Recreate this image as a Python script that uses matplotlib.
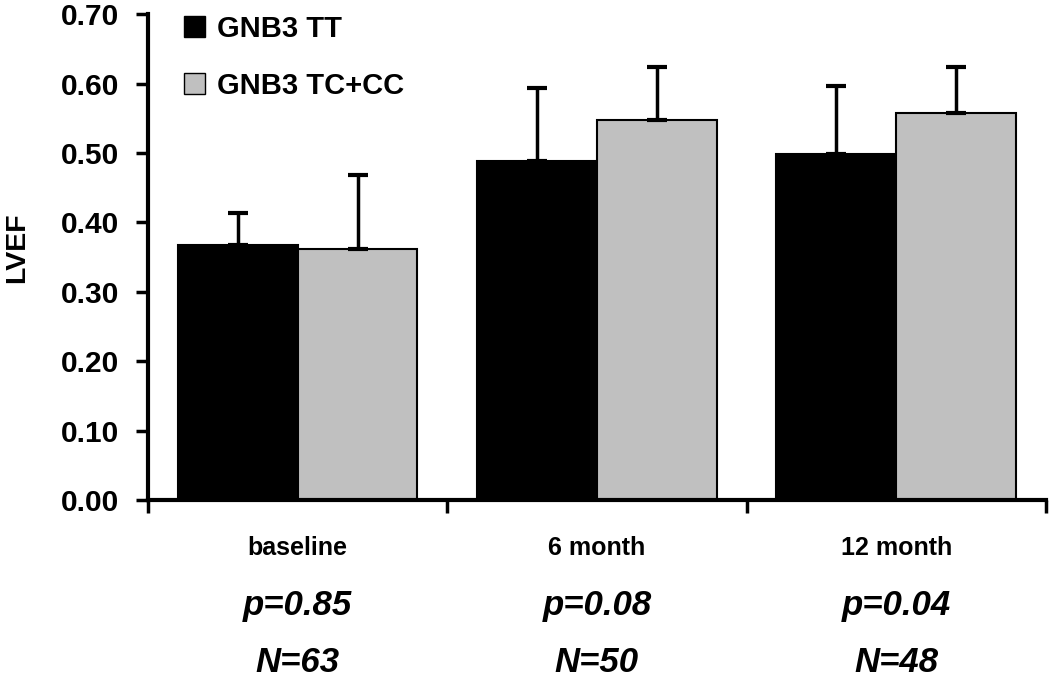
import matplotlib
matplotlib.use("Agg")
import matplotlib.pyplot as plt
import numpy as np
from matplotlib.patches import Patch

categories = ["baseline", "6 month", "12 month"]
tt_values = [0.367, 0.488, 0.498]
tt_err = [0.047, 0.106, 0.099]
tc_values = [0.361, 0.548, 0.558]
tc_err = [0.107, 0.076, 0.066]
p_values = ["p=0.85", "p=0.08", "p=0.04"]
n_values = ["N=63", "N=50", "N=48"]
series_names = ["GNB3 TT", "GNB3 TC+CC"]
yticks = [0.0, 0.1, 0.2, 0.3, 0.4, 0.5, 0.6, 0.7]

plt.rcParams['font.family'] = ['Liberation Sans', 'DejaVu Sans']
plt.rcParams['font.weight'] = 'bold'

fig = plt.figure(figsize=(10.5, 6.82), dpi=100)
ax = fig.add_axes([0.141, 0.267, 0.855, 0.712])

x = np.arange(len(categories))
w = 0.4
ekw = dict(elinewidth=2.5, capsize=7, capthick=3, ecolor='black')
ax.bar(x - w/2, tt_values, w, color='black', edgecolor='black', linewidth=1.5,
       yerr=[np.zeros(3), tt_err], error_kw=ekw, zorder=2)
ax.bar(x + w/2, tc_values, w, color='#c0c0c0', edgecolor='black', linewidth=1.5,
       yerr=[np.zeros(3), tc_err], error_kw=ekw, zorder=2)

ax.set_xlim(-0.5, 2.5)
ax.set_ylim(0, 0.70)
ax.set_yticks(yticks)
ax.set_yticklabels([f"{v:.2f}" for v in yticks], fontsize=21.5, fontweight='bold')
ax.set_xticks([-0.5, 0.5, 1.5, 2.5])
ax.set_xticklabels([])
ax.tick_params(axis='both', direction='out', length=9, width=2.5)
ax.tick_params(axis='y', pad=12)
for s in ['top', 'right']:
    ax.spines[s].set_visible(False)
for s in ['left', 'bottom']:
    ax.spines[s].set_linewidth(3)
ax.spines['left'].set_bounds(0, 0.70)

ax.set_ylabel("LVEF", fontsize=20.5, fontweight='bold', va='center', ha='center')
ax.yaxis.set_label_coords(-0.146, 0.519)

for i, c in enumerate(categories):
    xf = ax.transData.transform((i, 0))[0] / fig.bbox.width
    fig.text(xf, 1 - 548/682, c, ha='center', va='center', fontsize=18, fontweight='bold')
    fig.text(xf, 1 - 606/682, p_values[i], ha='center', va='center', fontsize=25,
             fontweight='bold', style='italic')
    fig.text(xf, 1 - 663/682, n_values[i], ha='center', va='center', fontsize=25,
             fontweight='bold', style='italic')

handles = [Patch(facecolor='black', edgecolor='black'),
           Patch(facecolor='#c0c0c0', edgecolor='black')]
leg = ax.legend(handles, series_names, loc='upper left', bbox_to_anchor=(0.011, 1.053),
                frameon=False, handlelength=0.72, handleheight=0.72,
                handletextpad=0.4, labelspacing=1.0, prop={'weight': 'bold', 'size': 21})

fig.savefig("out.png", dpi=100)
